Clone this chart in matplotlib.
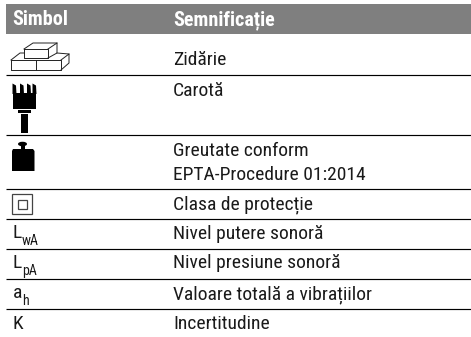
import matplotlib
matplotlib.use('Agg')
import matplotlib.pyplot as plt
from matplotlib.patches import Polygon, Rectangle, Ellipse

header = ['Simbol', 'Semnificație']
meanings = ['Zidărie', 'Carotă', 'Greutate conform', 'EPTA-Procedure 01:2014',
            'Clasa de protecție', 'Nivel putere sonoră', 'Nivel presiune sonoră',
            'Valoare totală a vibrațiilor', 'Incertitudine']
meaning_rows = [65, 95.5, 156, 180, 209, 239, 268.5, 299, 329]
symbols = [('L', 'wA'), ('L', 'pA'), ('a', 'h'), ('K', '')]
symbol_rows = [238, 268, 298, 329]
rule_rows = [74.5, 134.5, 188.5, 218.5, 248.5, 278.5, 308.5]

FONT = ['Roboto Condensed', 'DejaVu Sans']
TXT = '#1a1a1a'
SIZE = 14

fig = plt.figure(figsize=(4.71, 3.37), dpi=100)
ax = fig.add_axes([0, 0, 1, 1])
ax.set_xlim(0, 471)
ax.set_ylim(337, 0)
ax.axis('off')

# header band
ax.add_patch(Rectangle((6, 4), 465, 30, color='#7f7f7f', lw=0))
ax.text(12.5, 25, header[0], color='white', fontsize=14.5, fontweight='bold', family=FONT, va='baseline')
ax.text(173, 25, header[1], color='white', fontsize=14.5, fontweight='bold', family=FONT, va='baseline')

for y in rule_rows:
    ax.plot([6, 471], [y, y], color='black', lw=0.85, solid_capstyle='butt')

for y, m in zip(meaning_rows, meanings):
    ax.text(173, y, m, color=TXT, fontsize=SIZE, family=FONT, va='baseline')

for y, s in zip(symbol_rows, symbols):
    t = ax.text(12.5, y, s[0], color=TXT, fontsize=SIZE, family=FONT, va='baseline')
    bb = t.get_window_extent(fig.canvas.get_renderer())
    if s[1]:
        ax.text(12.5 + bb.width, y + 7, s[1], color=TXT, fontsize=10, family=FONT, va='baseline')


def brick_icon():
    lines = [[(24, 49), (48, 49), (48, 58), (24, 58), (24, 49)],
             [(24, 49), (33, 43), (57, 43), (57, 53), (48, 58)],
             [(48, 49), (57, 43)],
             [(11, 60), (36, 60), (36, 70), (11, 70), (11, 60)],
             [(11, 60), (20, 53), (24, 53)],
             [(36, 60), (61, 60), (61, 70), (36, 70)],
             [(61, 60), (69, 54), (69, 63), (61, 70)],
             [(57, 53), (69, 54)]]
    for ln in lines:
        ax.plot(*zip(*ln), color='#222222', lw=0.7)


def core_icon():
    ax.add_patch(Rectangle((12.5, 93), 23.5, 16, color='black', lw=0))
    for x in (12.5, 20, 27, 32.5):
        ax.add_patch(Polygon([(x, 94), (x, 83.5), (x + 3.5, 85.5), (x + 4, 94)], color='black', lw=0))
    ax.add_patch(Rectangle((17.5, 110), 13.5, 3, color='black', lw=0))
    ax.add_patch(Rectangle((21, 113.5), 7, 19.5, color='black', lw=0))


def weight_icon():
    ax.add_patch(Ellipse((22.5, 144), 9, 4.5, color='black', lw=0))
    ax.add_patch(Rectangle((20.5, 145), 4.5, 5, color='black', lw=0))
    ax.add_patch(Polygon([(13, 149), (33, 149), (34.5, 151), (34.5, 171), (12, 171), (12, 151)], color='black', lw=0))


def class_icon():
    ax.add_patch(Rectangle((11.5, 193.5), 20, 20, fill=False, ec='#444444', lw=0.9))
    ax.add_patch(Rectangle((17.5, 199.5), 9, 9, fill=False, ec='#444444', lw=0.9))


brick_icon()
core_icon()
weight_icon()
class_icon()

fig.savefig('out.png', dpi=100)
